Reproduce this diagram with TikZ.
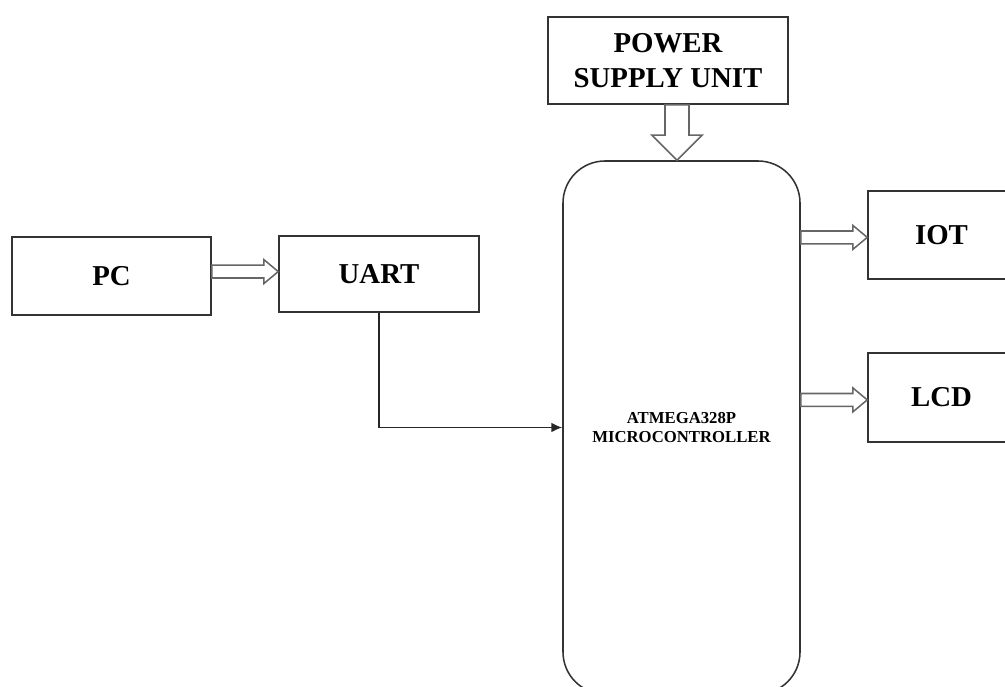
\documentclass[tikz,border=0pt]{standalone}
\usepackage{fontspec}
\setmainfont{Liberation Serif}
\usepackage{tikz}
\usetikzlibrary{arrows.meta, calc}
\newcommand{\biglabel}{\fontsize{20.5}{25}\selectfont\bfseries}
\newcommand{\smalllabel}{\fontsize{11.9}{13.5}\selectfont\bfseries}
\tikzstyle{unit} = [rectangle, draw=black!80, line width=1.1pt, align=center, inner sep=0pt, font=\biglabel]
\tikzstyle{chip} = [unit, rounded corners=1.05cm, font=\smalllabel]
\tikzstyle{arrow} = [draw=black!85, line width=1.1pt, -{Latex[length=0.27cm, width=0.24cm]}]
\tikzset{
    shaft/.store in=\shaftw, headw/.store in=\headw, headl/.store in=\headl,
    shaft=0.16cm, headw=0.3cm, headl=0.36cm,
    hollow/.style={draw=black!60, line width=1.1pt, fill=white, line join=miter, to path={
        ($(\tikztostart)!\shaftw!90:(\tikztotarget)$)
        -- ($(\tikztotarget)!\headl!(\tikztostart)!\shaftw!90:(\tikztotarget)$)
        -- ($(\tikztotarget)!\headl!(\tikztostart)!\headw!90:(\tikztotarget)$)
        -- (\tikztotarget)
        -- ($(\tikztotarget)!\headl!(\tikztostart)!\headw!-90:(\tikztotarget)$)
        -- ($(\tikztotarget)!\headl!(\tikztostart)!\shaftw!-90:(\tikztotarget)$)
        -- ($(\tikztostart)!\shaftw!-90:(\tikztotarget)$)
        -- cycle}},
}

\begin{document}
\begin{tikzpicture}

    \useasboundingbox (0, 0) rectangle (25.125, 17.15);
    \clip (0, 0) rectangle (25.125, 17.15);

    % blocks
    \node[unit, minimum width=4.975cm, minimum height=1.95cm] at (2.7875, 10.25) (pc) {PC};
    \node[unit, minimum width=5cm, minimum height=1.9cm] at (9.475, 10.3) (uart) {UART};
    \node[unit, minimum width=6cm, minimum height=2.175cm] at (16.7, 15.6375) (psu) {POWER\\SUPPLY UNIT};
    \node[chip, minimum width=5.925cm, minimum height=13.325cm] at (17.0375, 6.4625) (mcu) {ATMEGA328P\\MICROCONTROLLER};
    \node[unit, minimum width=3.675cm, minimum height=2.2cm] at (23.5375, 11.275) (iot) {IOT};
    \node[unit, minimum width=3.675cm, minimum height=2.225cm] at (23.5375, 7.2125) (lcd) {LCD};

    % hollow arrows
    \coordinate (pcout) at ([yshift=0.11cm]pc.east);
    \path[hollow] (pcout) to (pcout -| uart.west);

    \coordinate (psuout) at ([xshift=0.225cm]psu.south);
    \path[hollow, shaft=0.3cm, headw=0.625cm, headl=0.625cm] (psuout) to (psuout |- mcu.north);

    \coordinate (iotin) at ([yshift=-0.06cm]iot.west);
    \path[hollow] (iotin -| mcu.east) to (iotin);

    \coordinate (lcdin) at ([yshift=-0.06cm]lcd.west);
    \path[hollow] (lcdin -| mcu.east) to (lcdin);

    % uart to controller
    \path[arrow] (uart.south) |- (mcu.west);

\end{tikzpicture}
\end{document}
